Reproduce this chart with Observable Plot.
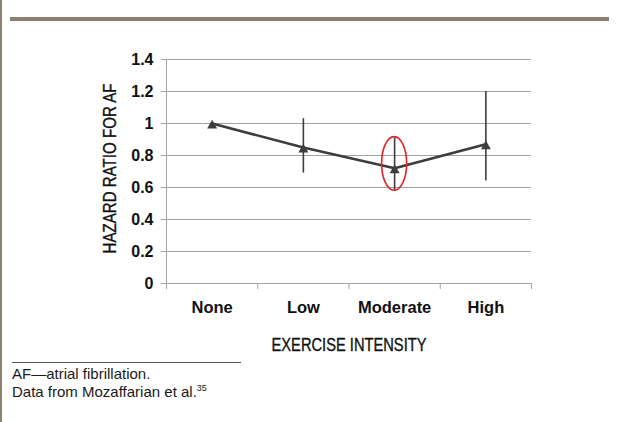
<!DOCTYPE html>
<html>
<head>
<meta charset="utf-8">
<script src="https://cdn.jsdelivr.net/npm/d3@7"></script>
<script src="https://cdn.jsdelivr.net/npm/@observablehq/plot@0.6"></script>
<style>
  html, body { margin: 0; padding: 0; background: #fff; }
  #page { position: relative; width: 621px; height: 422px; overflow: hidden; background: #fff;
          font-family: "Liberation Sans", Arial, sans-serif; }
  #leftbar { position: absolute; left: 0; top: 0; width: 2px; height: 422px; background: #8c8272; }
  #toprule { position: absolute; left: 10px; top: 17px; width: 599px; height: 4px; background: #8b8070; }
  #chart { position: absolute; left: 0; top: 0; }
  #footrule { position: absolute; left: 12px; top: 362px; width: 229px; height: 1px; background: #555; }
  #caption { position: absolute; left: 12px; top: 365px; font-size: 15px; line-height: 18px; color: #1a1a1a; }
  #caption sup { font-size: 9px; vertical-align: 6px; line-height: 0; }
</style>
</head>
<body>
<div id="page">
  <div id="leftbar"></div>
  <div id="toprule"></div>
  <div id="chart"></div>
  <div id="footrule"></div>
  <div id="caption">AF—atrial fibrillation.<br>Data from Mozaffarian et al.<sup>35</sup></div>
</div>
<script>
// ---- data ----
const categories = ["None", "Low", "Moderate", "High"];
const hazardRatio = [1.0, 0.85, 0.72, 0.87];
const ciLow = [null, 0.69, 0.58, 0.64];
const ciHigh = [null, 1.03, 0.91, 1.20];
const yTicks = [0, 0.2, 0.4, 0.6, 0.8, 1, 1.2, 1.4];
const yLabel = "HAZARD RATIO FOR AF";
const xLabel = "EXERCISE INTENSITY";
// highlighted (circled) category and its vertical extent
const highlightCategory = "Moderate";
const highlightRange = [0.58, 0.915];

const rows = categories.map((c, i) => ({
  cat: c, pos: i + 0.5, hr: hazardRatio[i], lo: ciLow[i], hi: ciHigh[i]
}));
const bars = rows.filter(d => d.lo != null);

const gray = "#a3a3a3";
const dark = "#3d3d3d";

const plot = Plot.plot({
  width: 621,
  height: 360,
  marginTop: 59,
  marginBottom: 77,
  marginLeft: 166,
  marginRight: 90,
  style: { background: "transparent", fontFamily: "Liberation Sans, Arial, sans-serif", overflow: "visible" },
  x: { type: "linear", domain: [0, categories.length] },
  y: { domain: [0, 1.4] },
  marks: [
    Plot.gridY(yTicks, { stroke: gray, strokeOpacity: 1 }),
    Plot.ruleX([0], { stroke: gray }),
    Plot.ruleY([0], { stroke: gray }),
    Plot.axisY({
      ticks: yTicks, tickSize: 5, tickPadding: 8, stroke: gray, fill: "#111",
      tickFormat: d => String(d), fontSize: 16, fontWeight: "bold", label: null
    }),
    Plot.axisX({
      ticks: d3.range(categories.length + 1), tickFormat: () => "", tickSize: 6,
      stroke: gray, label: null
    }),
    Plot.axisX({
      ticks: rows.map(d => d.pos), tickFormat: p => categories[Math.floor(p)], tickSize: 0,
      tickPadding: 18, fill: "#111", fontSize: 16.5, fontWeight: "bold", label: null
    }),
    Plot.text([yLabel], {
      frameAnchor: "left", rotate: -90, dx: -56, dy: -3, fontSize: 17.5, fill: "#111",
      stroke: "#111", strokeWidth: 0.35,
      textAnchor: "middle", lineAnchor: "middle"
    }),
    Plot.text([xLabel], {
      frameAnchor: "bottom", dy: 62, fontSize: 17.5, fill: "#111",
      stroke: "#111", strokeWidth: 0.35, lineAnchor: "middle"
    }),
    Plot.ruleX(bars, { x: "pos", y1: "lo", y2: "hi", stroke: dark, strokeWidth: 1.6 }),
    Plot.line(rows, { x: "pos", y: "hr", stroke: dark, strokeWidth: 2.6 }),
    Plot.dot(rows, { x: "pos", y: "hr", symbol: "triangle", r: 3.7, fill: dark, dy: 2 })
  ]
});

document.getElementById("chart").appendChild(plot);

// condense the two axis titles to the reference's narrower lettering
d3.select(plot).selectAll("text").each(function () {
  const t = this.textContent;
  if (t === yLabel) d3.select(this).attr("textLength", 170).attr("lengthAdjust", "spacingAndGlyphs");
  if (t === xLabel) d3.select(this).attr("textLength", 155).attr("lengthAdjust", "spacingAndGlyphs");
});

// red ellipse annotation around the highlighted point, placed through the plot's scales
const xs = plot.scale("x"), ys = plot.scale("y");
const hx = categories.indexOf(highlightCategory) + 0.5;
const yTop = ys.apply(highlightRange[1]), yBot = ys.apply(highlightRange[0]);
d3.select(plot).append("ellipse")
  .attr("cx", xs.apply(hx))
  .attr("cy", (yTop + yBot) / 2)
  .attr("rx", 12.5)
  .attr("ry", (yBot - yTop) / 2)
  .attr("fill", "none")
  .attr("stroke", "#e3202a")
  .attr("stroke-width", 1.6);
</script>
</body>
</html>
